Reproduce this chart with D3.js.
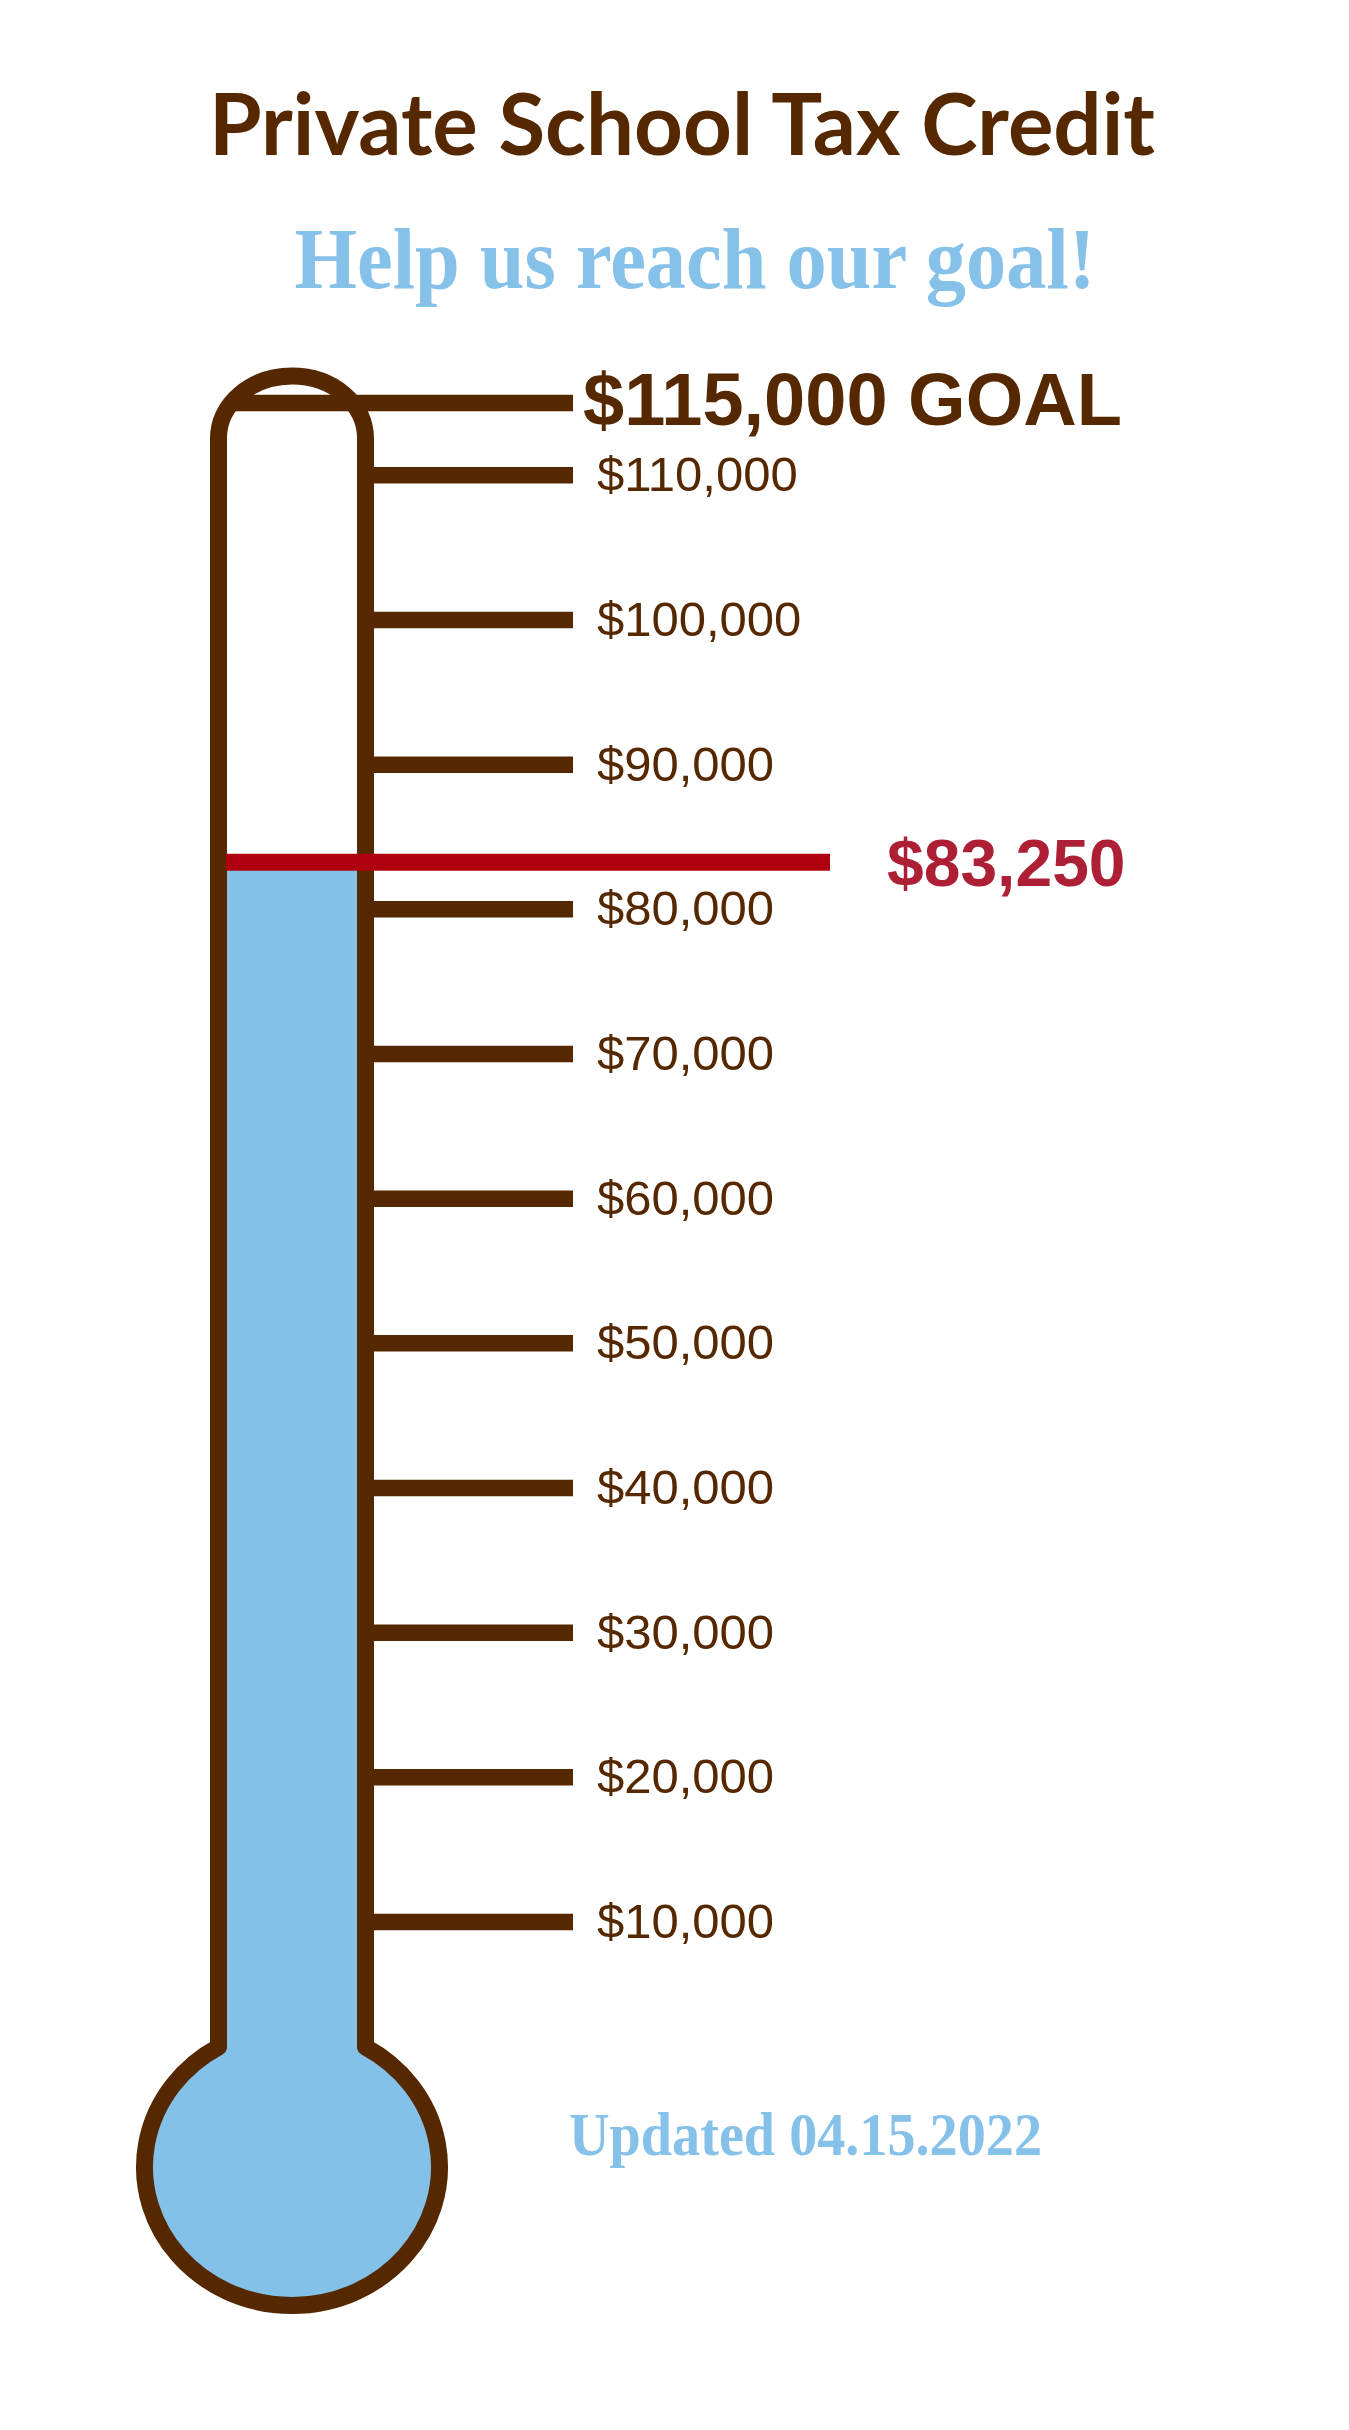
<!DOCTYPE html>
<html>
<head>
<meta charset="utf-8">
<script src="https://cdn.jsdelivr.net/npm/d3@7"></script>
<style>
  body { margin: 0; background: #fff; }
  svg { display: block; }
</style>
</head>
<body>
<div id="chart"></div>
<script>
// valeurs
const tickValues = [10000, 20000, 30000, 40000, 50000, 60000, 70000, 80000, 90000, 100000, 110000];
const goalValue = [115000];
const raisedValue = [83250];
const titleText = 'Private School Tax Credit';
const subtitleText = 'Help us reach our goal!';
const updatedText = 'Updated 04.15.2022';

const brown = '#562800';
const blue = '#83c1e8';
const red = '#b0000f';

const width = 1349;
const height = 2430;

// échelle verticale du thermomètre
const y = d3.scaleLinear()
    .domain([10000, 115000])
    .range([1922, 403]);

const fmt = d3.format('$,');

const svg = d3.select('#chart')
    .append('svg')
    .attr('width', width)
    .attr('height', height);

// titres
svg.append('text')
    .attr('x', 682)
    .attr('y', 155)
    .attr('text-anchor', 'middle')
    .attr('font-family', 'Lato')
    .attr('font-weight', 700)
    .attr('font-size', 86)
    .attr('textLength', 946)
    .attr('lengthAdjust', 'spacingAndGlyphs')
    .attr('fill', brown)
    .text(titleText);

svg.append('text')
    .attr('x', 695)
    .attr('y', 288)
    .attr('text-anchor', 'middle')
    .attr('font-family', 'Liberation Serif')
    .attr('font-weight', 700)
    .attr('font-size', 86)
    .attr('textLength', 801)
    .attr('lengthAdjust', 'spacingAndGlyphs')
    .attr('fill', '#85c1e9')
    .text(subtitleText);

// forme du thermomètre (centre du trait)
const cx = 292, halfW = 73.5;
const topY = 438, archRy = 62;
const bulbCy = 2167, bulbRx = 147.5, bulbRy = 138.5;
const neckY = bulbCy - bulbRy * Math.sqrt(1 - (halfW / bulbRx) ** 2);

const shape = `M${cx - halfW},${topY}` +
    ` A${halfW},${archRy} 0 0 1 ${cx + halfW},${topY}` +
    ` L${cx + halfW},${neckY}` +
    ` A${bulbRx},${bulbRy} 0 1 1 ${cx - halfW},${neckY} Z`;

const defs = svg.append('defs');
defs.append('clipPath')
    .attr('id', 'level')
    .append('rect')
    .attr('x', 0)
    .attr('y', y(raisedValue[0]))
    .attr('width', width)
    .attr('height', height - y(raisedValue[0]));

// remplissage bleu
svg.append('path')
    .attr('d', shape)
    .attr('fill', blue)
    .attr('clip-path', 'url(#level)');

// contour
svg.append('path')
    .attr('d', shape)
    .attr('fill', 'none')
    .attr('stroke', brown)
    .attr('stroke-width', 17)
    .attr('stroke-linejoin', 'round');

// graduations
svg.selectAll('line.tick')
    .data(tickValues)
    .enter()
    .append('line')
    .classed('tick', true)
    .attr('x1', cx + halfW)
    .attr('x2', 573)
    .attr('y1', d => y(d))
    .attr('y2', d => y(d))
    .attr('stroke', brown)
    .attr('stroke-width', 16.5);

svg.selectAll('text.tick')
    .data(tickValues)
    .enter()
    .append('text')
    .classed('tick', true)
    .attr('x', 597)
    .attr('y', d => y(d) + 16)
    .attr('font-family', 'Liberation Sans')
    .attr('font-size', 49)
    .attr('fill', brown)
    .text(d => fmt(d));

// objectif
svg.selectAll('line.goal')
    .data(goalValue)
    .enter()
    .append('line')
    .classed('goal', true)
    .attr('x1', 233)
    .attr('x2', 573)
    .attr('y1', d => y(d))
    .attr('y2', d => y(d))
    .attr('stroke', brown)
    .attr('stroke-width', 16.5);

svg.selectAll('text.goal')
    .data(goalValue)
    .enter()
    .append('text')
    .classed('goal', true)
    .attr('x', 583)
    .attr('y', d => y(d) + 22)
    .attr('font-family', 'Liberation Sans')
    .attr('font-weight', 700)
    .attr('font-size', 74)
    .attr('fill', brown)
    .text(d => fmt(d) + ' GOAL');

// montant atteint
svg.selectAll('line.raised')
    .data(raisedValue)
    .enter()
    .append('line')
    .classed('raised', true)
    .attr('x1', 226)
    .attr('x2', 830)
    .attr('y1', d => y(d))
    .attr('y2', d => y(d))
    .attr('stroke', red)
    .attr('stroke-width', 17);

svg.selectAll('text.raised')
    .data(raisedValue)
    .enter()
    .append('text')
    .classed('raised', true)
    .attr('x', 887)
    .attr('y', d => y(d) + 24)
    .attr('font-family', 'Liberation Sans')
    .attr('font-weight', 700)
    .attr('font-size', 66)
    .attr('fill', '#ad1f35')
    .text(d => fmt(d));

// date de mise à jour
svg.append('text')
    .attr('x', 569)
    .attr('y', 2155)
    .attr('font-family', 'Liberation Serif')
    .attr('font-weight', 700)
    .attr('font-size', 62)
    .attr('textLength', 473)
    .attr('lengthAdjust', 'spacingAndGlyphs')
    .attr('fill', '#85c1e9')
    .text(updatedText);
</script>
</body>
</html>
